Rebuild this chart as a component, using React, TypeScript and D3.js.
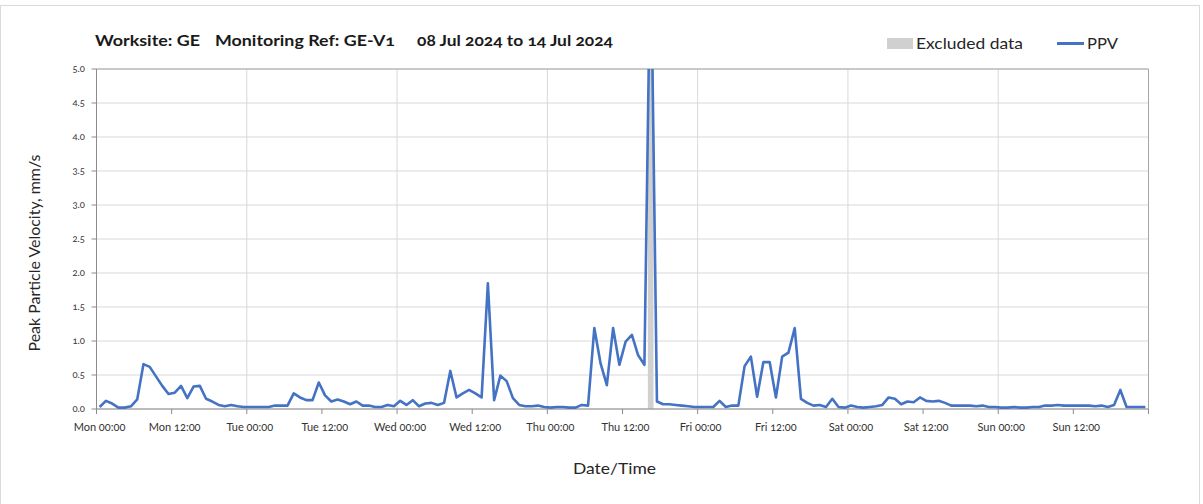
import React from 'react';
import * as d3 from 'd3';

// ---- data ----
const titleParts = ['Worksite: GE', 'Monitoring Ref: GE-V1', '08 Jul 2024 to 14 Jul 2024'];
const xTickLabels = [
  'Mon 00:00', 'Mon 12:00', 'Tue 00:00', 'Tue 12:00', 'Wed 00:00', 'Wed 12:00', 'Thu 00:00',
  'Thu 12:00', 'Fri 00:00', 'Fri 12:00', 'Sat 00:00', 'Sat 12:00', 'Sun 00:00', 'Sun 12:00',
];
const xTickHours = [0, 12, 24, 36, 48, 60, 72, 84, 96, 108, 120, 132, 144, 156, 168];
const dayGridHours = [0, 24, 48, 72, 96, 120, 144, 168];
const yTicks = [0, 0.5, 1, 1.5, 2, 2.5, 3, 3.5, 4, 4.5, 5];
const sampleStartHour = 0.5; // hourly readings
const ppvValues = [
  // Mon
  0.03, 0.12, 0.08, 0.02, 0.02, 0.04, 0.14, 0.66, 0.62, 0.48, 0.34, 0.22,
  0.24, 0.34, 0.16, 0.33, 0.34, 0.15, 0.11, 0.06, 0.04, 0.06, 0.04, 0.03,
  // Tue
  0.03, 0.03, 0.03, 0.03, 0.05, 0.05, 0.05, 0.23, 0.17, 0.13, 0.13, 0.39,
  0.20, 0.11, 0.14, 0.11, 0.07, 0.11, 0.05, 0.05, 0.03, 0.03, 0.06, 0.04,
  // Wed
  0.12, 0.06, 0.13, 0.04, 0.08, 0.09, 0.06, 0.09, 0.56, 0.17, 0.23, 0.28,
  0.23, 0.17, 1.85, 0.13, 0.49, 0.41, 0.16, 0.06, 0.04, 0.04, 0.05, 0.03,
  // Thu
  0.02, 0.03, 0.03, 0.02, 0.02, 0.06, 0.05, 1.19, 0.67, 0.35, 1.19, 0.65,
  0.99, 1.09, 0.79, 0.65, 7.0, 0.11, 0.07, 0.07, 0.06, 0.05, 0.04, 0.03,
  // Fri
  0.03, 0.03, 0.03, 0.12, 0.03, 0.05, 0.05, 0.63, 0.77, 0.18, 0.69, 0.69,
  0.17, 0.77, 0.83, 1.19, 0.15, 0.09, 0.05, 0.06, 0.03, 0.15, 0.03, 0.02,
  // Sat
  0.05, 0.03, 0.02, 0.03, 0.04, 0.06, 0.17, 0.15, 0.07, 0.11, 0.10, 0.17,
  0.12, 0.11, 0.12, 0.09, 0.05, 0.05, 0.05, 0.05, 0.04, 0.05, 0.03, 0.03,
  // Sun
  0.02, 0.02, 0.03, 0.02, 0.02, 0.03, 0.03, 0.05, 0.05, 0.06, 0.05, 0.05,
  0.05, 0.05, 0.05, 0.04, 0.05, 0.03, 0.06, 0.28, 0.03, 0.03, 0.03, 0.03,
];
const excludedRange = [88.05, 88.95];
const legendItems = ['Excluded data', 'PPV'];

// ---- layout ----
const W = 1203;
const H = 504;
const M = { left: 96.5, right: 1148.5, top: 69, bottom: 409 };
const FONT = 'Lato, "Open Sans", sans-serif';
const BLUE = '#4472C4';

export default function App() {
  const x = d3.scaleLinear().domain([0, 168]).range([M.left, M.right]);
  const y = d3.scaleLinear().domain([0, 5]).range([M.bottom, M.top]);
  const pts: [number, number][] = ppvValues.map((v, i) => [sampleStartHour + i, v]);
  const line = d3
    .line<[number, number]>()
    .x((d) => x(d[0]))
    .y((d) => y(d[1]));

  return (
    <svg
      width={W}
      height={H}
      style={{ position: 'absolute', left: 0, top: 0, background: '#fff' }}
      fontFamily={FONT}
    >
      <defs>
        <clipPath id="plotClip">
          <rect x={M.left} y={M.top} width={M.right - M.left} height={M.bottom - M.top} />
        </clipPath>
      </defs>
      <rect x={0.5} y={5.5} width={1199} height={520} fill="#fff" stroke="#d9d9d9" />

      {/* title */}
      <g fontWeight="bold" fontSize={16} fill="#1a1a1a" style={{ fontVariantNumeric: 'oldstyle-nums' }}>
        <text x={95} y={46} textLength={105} lengthAdjust="spacingAndGlyphs">{titleParts[0]}</text>
        <text x={215} y={46} textLength={180} lengthAdjust="spacingAndGlyphs">{titleParts[1]}</text>
        <text x={417} y={46} textLength={196} lengthAdjust="spacingAndGlyphs">{titleParts[2]}</text>
      </g>

      {/* legend */}
      <rect x={887} y={38} width={26} height={11} fill="#d0d0d0" />
      <text x={916} y={49} fontSize={16} fill="#262626" textLength={107} lengthAdjust="spacingAndGlyphs">
        {legendItems[0]}
      </text>
      <line x1={1057} x2={1084} y1={43.5} y2={43.5} stroke={BLUE} strokeWidth={3} />
      <text x={1087} y={49} fontSize={16} fill="#262626" textLength={31} lengthAdjust="spacingAndGlyphs">
        {legendItems[1]}
      </text>

      {/* horizontal grid */}
      {yTicks.map((t) => (
        <line key={'hg' + t} x1={M.left} x2={M.right} y1={y(t)} y2={y(t)} stroke="#d9d9d9" strokeWidth={1} />
      ))}
      {/* vertical day grid */}
      {dayGridHours.map((h) => (
        <line key={'vg' + h} x1={x(h)} x2={x(h)} y1={M.top} y2={M.bottom} stroke="#d9d9d9" strokeWidth={1} />
      ))}

      {/* excluded data */}
      <rect
        x={x(excludedRange[0])}
        y={M.top}
        width={x(excludedRange[1]) - x(excludedRange[0])}
        height={M.bottom - M.top}
        fill="#d0d0d0"
      />

      {/* plot border */}
      <line x1={M.left} x2={M.right} y1={M.top} y2={M.top} stroke="#a6a6a6" />
      <line x1={M.right} x2={M.right} y1={M.top} y2={M.bottom} stroke="#a6a6a6" />
      <line x1={M.left} x2={M.left} y1={M.top} y2={M.bottom} stroke="#8c8c8c" />
      <line x1={M.left} x2={M.right} y1={M.bottom} y2={M.bottom} stroke="#8c8c8c" />

      {/* y ticks */}
      {yTicks.map((t) => (
        <g key={'yt' + t}>
          <line x1={M.left - 5} x2={M.left} y1={y(t)} y2={y(t)} stroke="#8c8c8c" />
          <text
            x={85}
            y={y(t)}
            dy="0.35em"
            textAnchor="end"
            fontSize={9.5}
            fill="#333"
            style={{ fontVariantNumeric: 'oldstyle-nums' }}
          >
            {t.toFixed(1)}
          </text>
        </g>
      ))}

      {/* x ticks */}
      {xTickHours.map((h, i) => (
        <g key={'xt' + h}>
          <line x1={x(h)} x2={x(h)} y1={M.bottom} y2={M.bottom + 5} stroke="#8c8c8c" />
          {i < xTickLabels.length && (
            <text
              x={x(h) + 3}
              y={431}
              textAnchor="middle"
              fontSize={11}
              fill="#333"
              style={{ fontVariantNumeric: 'oldstyle-nums' }}
            >
              {xTickLabels[i]}
            </text>
          )}
        </g>
      ))}

      {/* PPV line */}
      <path
        d={line(pts) || ''}
        fill="none"
        stroke={BLUE}
        strokeWidth={2.6}
        strokeLinejoin="round"
        clipPath="url(#plotClip)"
      />

      {/* axis titles */}
      <text
        transform={`translate(40,253) rotate(-90)`}
        textAnchor="middle"
        fontSize={16}
        fill="#262626"
        textLength={197}
        lengthAdjust="spacingAndGlyphs"
      >
        Peak Particle Velocity, mm/s
      </text>
      <text
        x={573}
        y={474}
        fontSize={16}
        fill="#262626"
        textLength={83}
        lengthAdjust="spacingAndGlyphs"
      >
        Date/Time
      </text>
    </svg>
  );
}
